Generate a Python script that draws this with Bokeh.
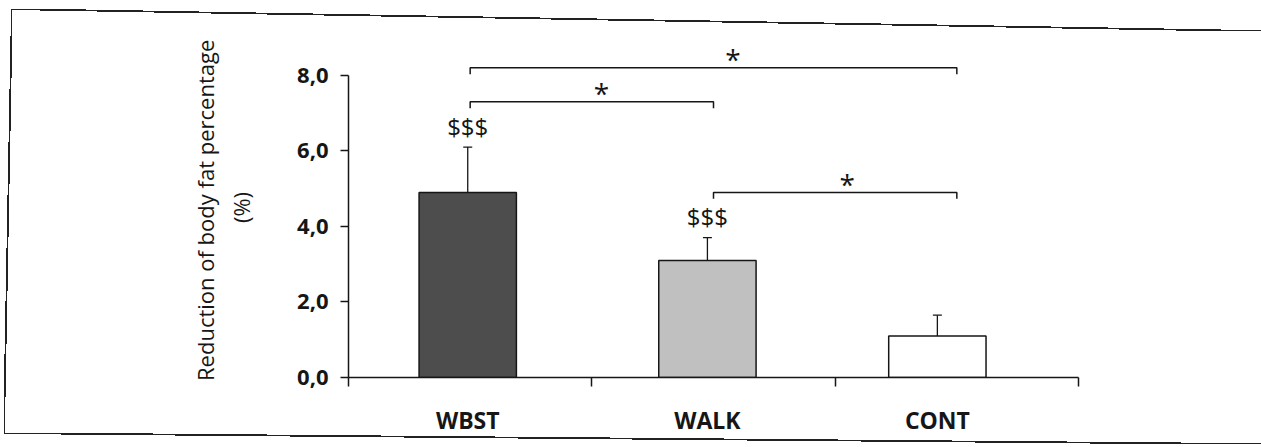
from bokeh.plotting import figure
from bokeh.models import Range1d, FixedTicker, Whisker, ColumnDataSource, TeeHead
from bokeh.core.properties import value
from bokeh.embed import file_html
from bokeh.resources import INLINE

# ---------------- data ----------------
categories = ["WBST", "WALK", "CONT"]
means = [4.9, 3.1, 1.1]
sds = [1.2, 0.6, 0.55]
y_ticks = [0, 2, 4, 6, 8]
y_tick_labels = ["0,0", "2,0", "4,0", "6,0", "8,0"]
marks = ["$$$", "$$$", ""]
# significance brackets: (from category, to category)
sig_pairs = [("WBST", "WALK"), ("WBST", "CONT"), ("WALK", "CONT")]
sig_levels = [7.3, 8.2, 4.9]
sig_labels = ["*", "*", "*"]
y_title = "Reduction of body fat  percentage\n(%)"

# ---------------- layout / style ----------------
bar_pos = [0.49, 1.475, 2.42]     # horizontal placement of the three groups
bracket_end = [0.5, 1.5, 2.5]
star_shift = [0.04, 0.08, 0.05]
bar_width = 0.4
fills = ["#4d4d4d", "#c0c0c0", "#ffffff"]
FONT = "Open Sans"
INK = "#161616"


def edge(direction, x, y, w, h):
    g = ("linear-gradient(%s, transparent calc(50%% - 1px), #222 calc(50%% - 1px), "
         "#222 calc(50%% + 0.8px), transparent calc(50%% + 0.8px))" % direction)
    return "%s %dpx %dpx / %dpx %dpx no-repeat" % (g, x, y, w, h)


frame_css = ", ".join([
    edge("to top right", 12, 9, 1249, 22),      # top edge (slightly tilted scan)
    edge("to bottom right", 4, 9, 8, 425),      # left edge
    edge("to top right", 4, 433, 1257, 11),     # bottom edge
])

p = figure(frame_width=730, frame_height=340, output_backend="svg",
           toolbar_location=None,
           x_range=Range1d(0, 3), y_range=Range1d(0, 9.0),
           min_border_left=348, min_border_right=183,
           min_border_top=37, min_border_bottom=70)
p.outline_line_color = None
p.xgrid.grid_line_color = None
p.ygrid.grid_line_color = None
p.background_fill_color = "white"
p.border_fill_alpha = 0
p.styles = {"background": frame_css}

src = ColumnDataSource(dict(
    x=bar_pos, top=means, fill=fills, cat=categories,
    upper=[m + s for m, s in zip(means, sds)],
    mark=marks,
    mark_y=[m + s + 0.55 for m, s in zip(means, sds)],
))

p.vbar(x="x", top="top", bottom=0, width=bar_width, fill_color="fill",
       line_color=INK, line_width=1.5, source=src)

wh = Whisker(base="x", lower="top", upper="upper", source=src,
             line_color=INK, line_width=1.3,
             upper_head=TeeHead(size=9, line_color=INK, line_width=1.3),
             lower_head=None)
p.add_layout(wh)

p.text(x="x", y="mark_y", text="mark", source=src,
       text_font=value(FONT), text_font_size="24px", text_color=INK,
       text_align="center", text_baseline="middle")

# significance brackets
idx = {c: i for i, c in enumerate(categories)}
tip = 0.17
xs, ys, sx, sy = [], [], [], []
for (a, b), lev, sh in zip(sig_pairs, sig_levels, star_shift):
    x0, x1 = bracket_end[idx[a]], bracket_end[idx[b]]
    xs.append([x0, x0, x1, x1])
    ys.append([lev - tip, lev, lev, lev - tip])
    sx.append((x0 + x1) / 2 + sh)
    sy.append(lev + 0.22)
p.multi_line(xs=xs, ys=ys, line_color=INK, line_width=1.5)
p.text(x=sx, y=sy, text=sig_labels, text_font=value(FONT),
       text_font_size="28px", text_color=INK, text_align="center",
       text_baseline="middle")

# x axis
xa = p.xaxis[0]
xa.ticker = FixedTicker(ticks=bar_pos, minor_ticks=[0, 1, 2, 3])
xa.major_label_overrides = {x: c for x, c in zip(bar_pos, categories)}
xa.major_tick_out = 0
xa.major_tick_in = 0
xa.minor_tick_out = 9
xa.minor_tick_in = 0
xa.minor_tick_line_color = INK
xa.minor_tick_line_width = 1.5
xa.axis_line_color = INK
xa.axis_line_width = 1.5
xa.major_label_standoff = 17
xa.major_label_text_font = FONT
xa.major_label_text_font_size = "23px"
xa.major_label_text_font_style = "bold"
xa.major_label_text_color = INK

# y axis
ya = p.yaxis[0]
ya.bounds = (0, 8)
ya.ticker = FixedTicker(ticks=y_ticks, minor_ticks=[])
ya.major_label_overrides = {t: l for t, l in zip(y_ticks, y_tick_labels)}
ya.major_tick_out = 8
ya.major_tick_in = 0
ya.major_tick_line_color = INK
ya.major_tick_line_width = 1.5
ya.axis_line_color = INK
ya.axis_line_width = 1.5
ya.major_label_standoff = 12
ya.major_label_text_font = FONT
ya.major_label_text_font_size = "22px"
ya.major_label_text_font_style = "bold"
ya.major_label_text_color = INK
ya.axis_label = y_title
ya.axis_label_text_font = FONT
ya.axis_label_text_font_size = "22px"
ya.axis_label_text_font_style = "normal"
ya.axis_label_text_color = INK
ya.axis_label_standoff = 38
ya.axis_label_text_line_height = 1.2

open("out.html", "w").write(file_html(p, INLINE))
